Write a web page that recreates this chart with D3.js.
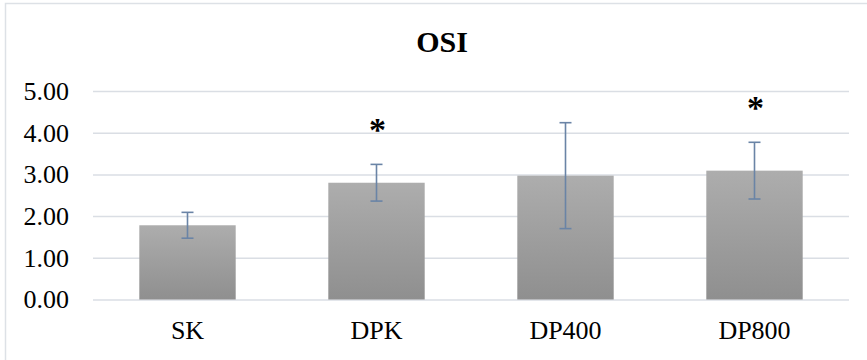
<!DOCTYPE html>
<html>
<head>
<meta charset="utf-8">
<script src="https://cdn.jsdelivr.net/npm/d3@7"></script>
<style>
  html, body { margin: 0; padding: 0; background: #fff; }
  svg { display: block; }
</style>
</head>
<body>
<svg id="chart" width="867" height="360"></svg>
<script>
const title = "OSI";
const categories = ["SK", "DPK", "DP400", "DP800"];
const means = [1.78, 2.80, 2.97, 3.09];
const errors = [0.31, 0.44, 1.27, 0.68];
const marks = ["", "*", "", "*"];
const yTicks = [0, 1, 2, 3, 4, 5];

const FONT = '"Liberation Serif", "Times New Roman", Tinos, serif';
const svg = d3.select("#chart");

// chart border (extends beyond the visible area on right/bottom)
svg.append("rect")
  .attr("x", 5.5).attr("y", 3.5)
  .attr("width", 890).attr("height", 380)
  .attr("fill", "#fff")
  .attr("stroke", "#dde1e6")
  .attr("stroke-width", 1.5);

const x = d3.scaleBand()
  .domain(categories)
  .range([93, 849])
  .paddingInner(0.49)
  .paddingOuter(0.245);

const y = d3.scaleLinear().domain([0, 5]).range([299.5, 91]);

// gradient
const defs = svg.append("defs");
const grad = defs.append("linearGradient")
  .attr("id", "barGrad")
  .attr("x1", "0").attr("y1", "0").attr("x2", "0").attr("y2", "1");
grad.append("stop").attr("offset", "0%").attr("stop-color", "#adadad");
grad.append("stop").attr("offset", "100%").attr("stop-color", "#8f8f8f");

// gridlines + y labels
const yAxis = d3.axisLeft(y)
  .tickValues(yTicks)
  .tickSize(-(849 - 93))
  .tickPadding(24)
  .tickFormat(d3.format(".2f"));

const gy = svg.append("g")
  .attr("transform", "translate(93,0)")
  .call(yAxis);
gy.select(".domain").remove();
gy.selectAll(".tick line")
  .attr("stroke", "#dadee4")
  .attr("stroke-width", 1.5);
gy.selectAll(".tick text")
  .style("font-family", FONT)
  .style("font-size", "26px")
  .attr("fill", "#000");

// bars
svg.append("g").selectAll("rect")
  .data(categories)
  .join("rect")
  .attr("x", d => x(d))
  .attr("y", (d, i) => y(means[i]))
  .attr("width", x.bandwidth())
  .attr("height", (d, i) => y(0) - y(means[i]))
  .attr("fill", "url(#barGrad)");

// error bars
const eb = svg.append("g")
  .attr("stroke", "#6a84a6")
  .attr("stroke-width", 1.6)
  .attr("fill", "none");
categories.forEach((c, i) => {
  const cx = x(c) + x.bandwidth() / 2;
  const top = y(means[i] + errors[i]);
  const bot = y(means[i] - errors[i]);
  eb.append("line").attr("x1", cx).attr("x2", cx).attr("y1", top).attr("y2", bot);
  eb.append("line").attr("x1", cx - 6).attr("x2", cx + 6).attr("y1", top).attr("y2", top);
  eb.append("line").attr("x1", cx - 6).attr("x2", cx + 6).attr("y1", bot).attr("y2", bot);
});

// significance marks
svg.append("g").selectAll("text")
  .data(categories)
  .join("text")
  .attr("x", d => x(d) + x.bandwidth() / 2 + 1)
  .attr("y", (d, i) => y(means[i] + errors[i]) - 23.5)
  .attr("text-anchor", "middle")
  .style("font-family", FONT)
  .style("font-size", "34px")
  .style("font-weight", "bold")
  .attr("fill", "#000")
  .text((d, i) => marks[i]);

// x axis labels
const xAxis = d3.axisBottom(x).tickSize(0).tickPadding(0);
const gx = svg.append("g")
  .attr("transform", "translate(0,339)")
  .call(xAxis);
gx.select(".domain").remove();
gx.selectAll(".tick text")
  .attr("y", 0)
  .attr("dy", 0)
  .style("font-family", FONT)
  .style("font-size", "26px")
  .attr("fill", "#000");

// title
svg.append("text")
  .attr("x", 442)
  .attr("y", 52)
  .attr("text-anchor", "middle")
  .style("font-family", FONT)
  .style("font-size", "30px")
  .style("font-weight", "bold")
  .attr("fill", "#000")
  .text(title);
</script>
</body>
</html>
